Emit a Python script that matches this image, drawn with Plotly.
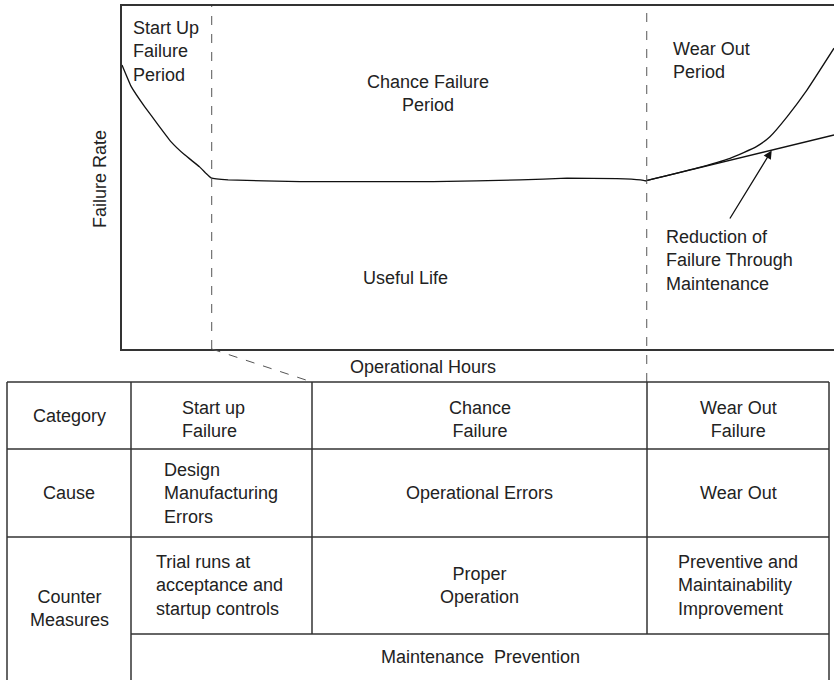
import plotly.graph_objects as go

W, H = 834, 680

# bathtub curve (hours and rate in % of axis)
hours = [0, 1.3, 3.2, 5.1, 6.9, 8.8, 10.9, 11.8, 12.5, 14.9, 25.0, 43.7, 55.9, 62.5, 69.5, 72.8, 73.5]
failure_rate = [82.8, 76.5, 70.6, 65.3, 60.4, 56.6, 53.1, 51.2, 49.9, 49.3, 48.8, 48.8, 49.3, 49.8, 49.7, 49.3, 49.0]
wearout_hours = [73.5, 80.7, 85.4, 89.1, 91.0, 93.4, 96.2, 100]
wearout_rate = [49.0, 52.7, 55.6, 59.0, 61.9, 67.7, 75.5, 87.7]
maintained_hours = [73.5, 100]
maintained_rate = [49.0, 62.4]
period_bounds = [12.6, 73.7]

row_labels = ["Category", "Cause", "Counter<br>Measures"]
categories = ["Start up<br>Failure", "Chance<br>Failure", "Wear Out<br>Failure"]
causes = ["Design<br>Manufacturing<br>Errors", "Operational Errors", "Wear Out"]
counter_measures = ["Trial runs at<br>acceptance and<br>startup controls", "Proper<br>Operation",
                    "Preventive and<br>Maintainability<br>Improvement"]
common_measure = "Maintenance  Prevention"

FONT = "Liberation Sans, Arial, sans-serif"
INK = "#222"
LINE = "#333"

# plot box in pixels
X0, X1, Y0, Y1 = 122, 834, 6, 349


def px(x):
    return x / W


def py(y):
    return 1 - y / H


def hx(h):
    # hours -> pixel
    return X0 + h / 100 * (X1 - X0)


def seg(x0, y0, x1, y1, line):
    return dict(type="line", xref="paper", yref="paper", x0=px(x0), x1=px(x1), y0=py(y0), y1=py(y1), line=line)


fig = go.Figure()
fig.add_trace(go.Scatter(x=hours, y=failure_rate, mode="lines",
                         line=dict(color="#111", width=1.3, shape="spline", smoothing=0.3)))
fig.add_trace(go.Scatter(x=wearout_hours, y=wearout_rate, mode="lines",
                         line=dict(color="#111", width=1.3, shape="spline", smoothing=0.5)))
fig.add_trace(go.Scatter(x=maintained_hours, y=maintained_rate, mode="lines",
                         line=dict(color="#111", width=1.3)))

col_x = [7, 131, 312, 647, 829]
row_y = [382, 449, 537, 634, 679]

shapes = []
dash = dict(color="#555", width=1, dash="dash")
b0, b1 = hx(period_bounds[0]), hx(period_bounds[1])
# period boundaries, the first one bends down to the table column
shapes.append(seg(b0, Y1, b0, Y0, dash))
shapes.append(seg(b1, row_y[0], b1, Y0, dash))
shapes.append(seg(b0, Y1, col_x[2], row_y[0], dash))

# table grid (bottom edge is cut off)
tl = dict(color=LINE, width=1.5)
shapes.append(seg(col_x[0], row_y[0], col_x[4], row_y[0], tl))
for yy in row_y[1:3]:
    shapes.append(seg(col_x[0], yy, col_x[4], yy, tl))
shapes.append(seg(col_x[1], row_y[3], col_x[4], row_y[3], tl))
for xx in (col_x[0], col_x[1], col_x[4]):
    shapes.append(seg(xx, row_y[0], xx, H, tl))
for xx in col_x[2:4]:
    shapes.append(seg(xx, row_y[0], xx, row_y[3], tl))

ann = []


def text(s, x, y, anchor="center", align="center", angle=0):
    ann.append(dict(text=s, x=px(x), y=py(y), xref="paper", yref="paper", showarrow=False,
                    xanchor=anchor, yanchor="middle", align=align, textangle=angle,
                    font=dict(family=FONT, size=18, color=INK)))


# chart labels
text("Start Up<br>Failure<br>Period", 131, 52, "left", "left")
text("Chance Failure<br>Period", 428, 94)
text("Wear Out<br>Period", 671, 60, "left", "left")
text("Useful Life", 405, 278)
text("Reduction of<br>Failure Through<br>Maintenance", 664, 260, "left", "left")
text("Failure Rate", 100, 179, angle=-90)
text("Operational Hours", 423, 367)

# arrow
ann.append(dict(x=91.25, y=57.9, ax=85.25, ay=37.6, xref="x", yref="y", axref="x", ayref="y",
                showarrow=True, arrowhead=2, arrowsize=1.3, arrowwidth=1.3, arrowcolor="#111", text=""))

# table text
mid_rows = [(row_y[0] + row_y[1]) / 2, (row_y[1] + row_y[2]) / 2, (row_y[2] + row_y[3]) / 2]
for i, lab in enumerate(row_labels):
    yy = mid_rows[i] if i < 2 else (row_y[2] + row_y[4]) / 2
    text(lab, (col_x[0] + col_x[1]) / 2, yy)

col_mid = [(col_x[1] + col_x[2]) / 2, (col_x[2] + col_x[3]) / 2, (col_x[3] + col_x[4]) / 2]
text(categories[0], 180, mid_rows[0] + 4, "left", "left")
text(categories[1], col_mid[1], mid_rows[0] + 4)
text(categories[2], col_mid[2], mid_rows[0] + 4)
text(causes[0], 162, mid_rows[1], "left", "left")
text(causes[1], col_mid[1], mid_rows[1])
text(causes[2], col_mid[2], mid_rows[1])
text(counter_measures[0], 154, mid_rows[2], "left", "left")
text(counter_measures[1], col_mid[1], mid_rows[2])
text(counter_measures[2], 676, mid_rows[2], "left", "left")
text(common_measure, (col_x[1] + col_x[4]) / 2, (row_y[3] + row_y[4]) / 2)

fig.update_layout(
    width=W, height=H, margin=dict(l=0, r=0, t=0, b=0),
    paper_bgcolor="white", plot_bgcolor="white", showlegend=False,
    shapes=shapes, annotations=ann,
    xaxis=dict(domain=[px(X0), 1], range=[0, 100], showgrid=False, zeroline=False, showticklabels=False,
               ticks="", showline=True, linecolor=LINE, linewidth=1.5, mirror=True),
    yaxis=dict(domain=[py(Y1), py(Y0)], range=[0, 100], showgrid=False, zeroline=False, showticklabels=False,
               ticks="", showline=True, linecolor=LINE, linewidth=1.5),
)

# the page's default body margin would push the figure 8px in
fig.write_html("out.html", config={"displayModeBar": False},
               post_script="document.body.style.margin = '0';")
